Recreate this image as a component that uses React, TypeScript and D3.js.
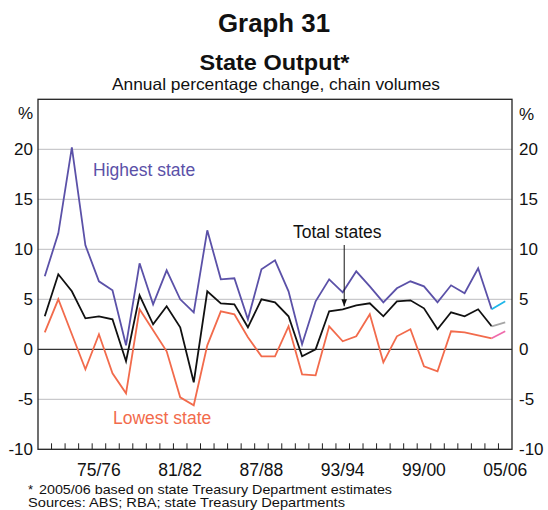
import React from "react";
import * as d3 from "d3";

const years = [
  "71/72", "72/73", "73/74", "74/75", "75/76", "76/77", "77/78", "78/79", "79/80", "80/81",
  "81/82", "82/83", "83/84", "84/85", "85/86", "86/87", "87/88", "88/89", "89/90", "90/91",
  "91/92", "92/93", "93/94", "94/95", "95/96", "96/97", "97/98", "98/99", "99/00", "00/01",
  "01/02", "02/03", "03/04", "04/05", "05/06",
];
const highest = [
  7.3, 11.6, 20.2, 10.4, 6.8, 5.9, 0.4, 8.6, 4.5, 7.9, 5.0, 3.7, 11.9, 7.0, 7.1, 3.0, 8.0, 8.9,
  5.8, 0.5, 4.8, 7.0, 5.7, 7.8, 6.3, 4.7, 6.1, 6.8, 6.3, 4.7, 6.4, 5.6, 8.1, 4.0, 4.8,
];
const total = [
  3.3, 7.5, 5.8, 3.1, 3.3, 3.0, -1.2, 5.4, 2.5, 4.3, 2.2, -3.3, 5.8, 4.6, 4.5, 2.2, 5.0, 4.7,
  3.3, -0.7, 0.0, 3.8, 4.0, 4.4, 4.6, 3.3, 4.8, 4.9, 4.1, 2.0, 3.7, 3.3, 4.0, 2.3, 2.7,
];
const lowest = [
  1.7, 5.0, 1.5, -2.0, 1.5, -2.4, -4.4, 4.0, 1.9, -0.2, -4.8, -5.6, 0.4, 3.8, 3.5, 1.2, -0.7, -0.7,
  2.3, -2.5, -2.6, 2.3, 0.8, 1.3, 3.5, -1.3, 1.3, 2.0, -1.7, -2.2, 1.8, 1.7, 1.4, 1.1, 1.8,
];
const yTicks = [-10, -5, 0, 5, 10, 15, 20];
const xLabels = ["75/76", "81/82", "87/88", "93/94", "99/00", "05/06"];

const W = 548;
const H = 510;
const plot = { left: 38, right: 512, top: 99.3, bottom: 449.3 };
const font = "Arial, 'Liberation Sans', sans-serif";

export default function App() {
  const x = d3.scaleBand<string>().domain(years).range([plot.left, plot.right]);
  const y = d3.scaleLinear().domain([-10, 25]).range([plot.bottom, plot.top]);
  const cx = (i: number) => (x(years[i]) as number) + x.bandwidth() / 2;

  // offset lets the estimate segment start at the right category
  const lineFrom = (start: number) =>
    d3
      .line<number>()
      .x((_, i) => cx(i + start))
      .y((d) => y(d));

  const n = years.length;
  const series = [
    { values: highest, color: "#5b51a8", est: "#1eb6e9" },
    { values: total, color: "#111111", est: "#a6a6a6" },
    { values: lowest, color: "#f26b4c", est: "#ef6aab" },
  ];

  const arrowIdx = years.indexOf("93/94");

  return (
    <svg
      width={W}
      height={H}
      style={{ position: "absolute", left: 0, top: 0, background: "#fff" }}
      fontFamily={font}
      fill="#111"
    >
      <defs>
        <marker id="ah" viewBox="0 0 10 10" refX="10" refY="5" markerWidth="7" markerHeight="7" orient="auto">
          <path d="M0,1 L10,5 L0,9 z" fill="#111" />
        </marker>
      </defs>

      <text x={274} y={31.5} textAnchor="middle" fontSize={25} fontWeight="bold" textLength={112} lengthAdjust="spacingAndGlyphs">Graph 31</text>
      <text x={274.5} y={70} textAnchor="middle" fontSize={21.5} fontWeight="bold" textLength={150} lengthAdjust="spacingAndGlyphs">State Output*</text>
      <text x={276} y={90} textAnchor="middle" fontSize={16.5} textLength={328} lengthAdjust="spacingAndGlyphs">Annual percentage change, chain volumes</text>

      {/* grid */}
      {yTicks.filter((t) => t !== 0 && t !== -10).map((t) => (
        <line key={t} x1={plot.left} x2={plot.right} y1={y(t)} y2={y(t)} stroke="#c9c9cc" strokeWidth={1.2} />
      ))}
      <line x1={plot.left} x2={plot.right} y1={y(0)} y2={y(0)} stroke="#333" strokeWidth={1.2} />

      {/* bottom ticks */}
      {years.slice(1).map((yr) => (
        <line
          key={yr}
          x1={x(yr) as number}
          x2={x(yr) as number}
          y1={plot.bottom}
          y2={plot.bottom - 6}
          stroke="#222"
          strokeWidth={1}
        />
      ))}

      {/* series, last year drawn as estimate */}
      {series.map((s, k) => (
        <g key={k} fill="none" strokeWidth={1.8}>
          <path d={lineFrom(0)(s.values.slice(0, n - 1)) || ""} stroke={s.color} />
          <path d={lineFrom(n - 2)(s.values.slice(n - 2)) || ""} stroke={s.est} />
        </g>
      ))}

      {/* frame */}
      <rect
        x={plot.left}
        y={plot.top}
        width={plot.right - plot.left}
        height={plot.bottom - plot.top}
        fill="none"
        stroke="#222"
        strokeWidth={1.3}
      />

      {/* y labels */}
      {yTicks.map((t) => (
        <g key={t} fontSize={17}>
          <text x={33} y={y(t)} dy="0.36em" textAnchor="end">{t}</text>
          <text x={519} y={y(t)} dy="0.36em" textAnchor="start">{t}</text>
        </g>
      ))}
      <text x={33} y={y(23.6)} dy="0.36em" textAnchor="end" fontSize={17}>%</text>
      <text x={519} y={y(23.5)} dy="0.36em" textAnchor="start" fontSize={17}>%</text>

      {/* x labels */}
      {xLabels.map((l) => (
        <text key={l} x={cx(years.indexOf(l))} y={476} textAnchor="middle" fontSize={17.5}>{l}</text>
      ))}

      {/* annotations */}
      <text x={93} y={176} fontSize={17.5} fill="#5b51a8">Highest state</text>
      <text x={293} y={238} fontSize={17.5}>Total states</text>
      <text x={113} y={424} fontSize={17.5} fill="#f26b4c">Lowest state</text>
      <line
        x1={cx(arrowIdx) + 1.5}
        x2={cx(arrowIdx) + 1.5}
        y1={245}
        y2={y(total[arrowIdx]) - 3}
        stroke="#111"
        strokeWidth={1}
        markerEnd="url(#ah)"
      />

      <text x={28} y={493.5} fontSize={13}>*</text>
      <text x={39} y={493.5} fontSize={13.5} textLength={353} lengthAdjust="spacingAndGlyphs">2005/06 based on state Treasury Department estimates</text>
      <text x={28} y={507} fontSize={13.5} textLength={317} lengthAdjust="spacingAndGlyphs">Sources: ABS; RBA; state Treasury Departments</text>
    </svg>
  );
}
